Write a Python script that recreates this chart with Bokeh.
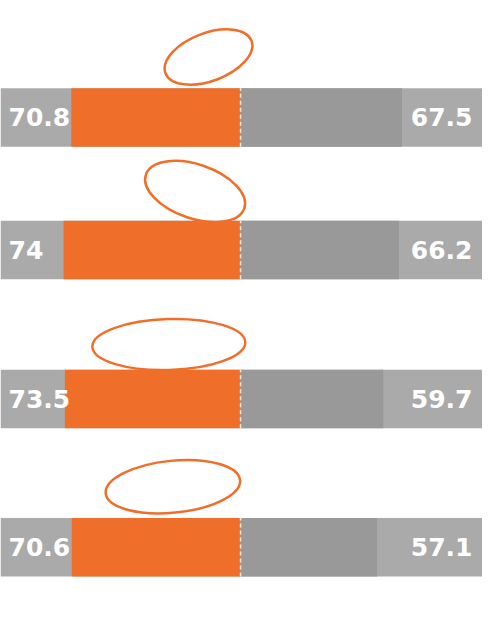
from bokeh.plotting import figure
from bokeh.models import Range1d, ColumnDataSource
from bokeh.embed import file_html
from bokeh.resources import INLINE
from bokeh.core.properties import value

# data
left_values = [70.8, 74.0, 73.5, 70.6]
right_values = [67.5, 66.2, 59.7, 57.1]
left_labels = ["70.8", "74", "73.5", "70.6"]
right_labels = ["67.5", "66.2", "59.7", "57.1"]

# layout (not data)
row_y = [506, 370, 217, 65]
bar_h = 60
ell_x = [-13.4, -19.0, -30.0, -28.3]
ell_y = [568, 430, 273, 127]
ell_w = [92, 104, 153, 135]
ell_h = [48, 54, 51, 52]
ell_a = [0.36, -0.33, 0.03, 0.10]

ORANGE = "#EF6F2A"
LIGHT = "#AAAAAA"
DARK = "#999999"

x0, x1 = -100.4, 101.2
p = figure(width=482, height=610, output_backend="svg", toolbar_location=None,
           x_range=Range1d(x0, x1), y_range=Range1d(0, 626),
           min_border=0, min_border_left=0, min_border_right=0,
           min_border_top=0, min_border_bottom=0)
p.axis.visible = False
p.grid.visible = False
p.outline_line_color = None
p.background_fill_color = "white"

n = len(left_values)
src = ColumnDataSource(dict(
    y=row_y,
    lneg=[-v for v in left_values],
    rv=right_values,
    bg_l=[x0 - 5] * n,
    bg_r=[x1 + 5] * n,
    zero=[0] * n,
    ytop=[y + bar_h / 2 for y in row_y],
    ybot=[y - bar_h / 2 for y in row_y],
    ll=left_labels,
    rl=right_labels,
    lx=[x0] * n,
    rx=[x1] * n,
))

p.hbar(y="y", left="bg_l", right="bg_r", height=bar_h, source=src,
       fill_color=LIGHT, line_color=None)
p.hbar(y="y", left="lneg", right="zero", height=bar_h, source=src,
       fill_color=ORANGE, line_color=None)
p.hbar(y="y", left="zero", right="rv", height=bar_h, source=src,
       fill_color=DARK, line_color=None)
p.segment(x0="zero", y0="ybot", x1="zero", y1="ytop", source=src,
          line_color="#F6E9DE", line_width=1.5, line_dash="4 3")

p.text(x="lx", y="y", text="ll", source=src, text_align="left",
       text_baseline="middle", text_color="white", text_font_size="25px",
       text_font=value("DejaVu Sans"), text_font_style="bold", x_offset=8)
p.text(x="rx", y="y", text="rl", source=src, text_align="right",
       text_baseline="middle", text_color="white", text_font_size="25px",
       text_font=value("DejaVu Sans"), text_font_style="bold", x_offset=-10)

p.ellipse(x=ell_x, y=ell_y, width=ell_w, height=ell_h, angle=ell_a,
          width_units="screen", height_units="screen",
          fill_color=None, line_color=ORANGE, line_width=2.5)

open("out.html", "w").write(file_html(p, INLINE))
